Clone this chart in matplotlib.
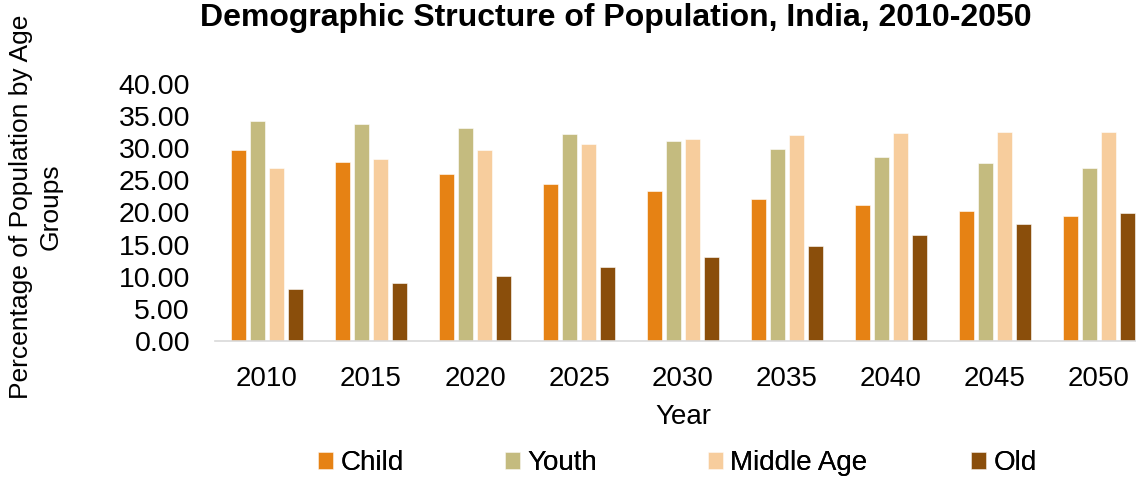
import matplotlib
matplotlib.use("Agg")
import matplotlib.pyplot as plt
import numpy as np

plt.rcParams['font.family'] = ['Liberation Sans', 'DejaVu Sans']

years = ["2010", "2015", "2020", "2025", "2030", "2035", "2040", "2045", "2050"]
child = [29.7, 27.8, 26.0, 24.5, 23.3, 22.1, 21.1, 20.3, 19.5]
youth = [34.2, 33.7, 33.1, 32.2, 31.1, 29.9, 28.7, 27.7, 26.9]
middle = [26.9, 28.4, 29.7, 30.7, 31.4, 32.0, 32.4, 32.6, 32.5]
old = [8.1, 9.0, 10.1, 11.5, 13.0, 14.8, 16.5, 18.2, 19.9]

series_names = ["Child", "Youth", "Middle Age", "Old"]
series = [child, youth, middle, old]
colors = ["#E68214", "#C4BB7F", "#F7CD9D", "#8A4E0B"]

W, H = 1136, 478
fig = plt.figure(figsize=(W / 100, H / 100), dpi=100)
ax = fig.add_axes([215 / W, 1 - 341 / H, (1151 - 215) / W, (341 - 84) / H])

x = np.arange(len(years))
slot = 0.183
bw = 0.145
for i, (name, vals, c) in enumerate(zip(series_names, series, colors)):
    ax.bar(x + (i - 1.5) * slot, vals, width=bw, color=c, label=name,
           edgecolor='white', linewidth=0.4)

ax.set_xlim(-0.5, len(years) - 0.5)
ax.set_ylim(0, 40)
ax.set_yticks(np.arange(0, 45, 5))
ax.set_yticklabels([f"{v:.2f}" for v in np.arange(0, 45, 5)], fontsize=20.5)
ax.set_xticks(x)
ax.set_xticklabels(years, fontsize=20)
ax.tick_params(axis='both', length=0)
ax.tick_params(axis='y', pad=18)
ax.tick_params(axis='x', pad=18)
for s in ['top', 'right', 'left']:
    ax.spines[s].set_visible(False)
ax.spines['bottom'].set_color('#D9D9D9')
ax.spines['bottom'].set_linewidth(1.2)

ax.set_xlabel("Year", fontsize=20, labelpad=9)
fig.text(36 / W, 1 - 207 / H, "Percentage of Population by Age\nGroups",
         rotation=90, ha='center', va='center', fontsize=19,
         multialignment='center', linespacing=1.3)

fig.text(616 / W, 1 - 18 / H, "Demographic Structure of Population, India, 2010-2050",
         ha='center', va='center', fontsize=23, fontweight='bold')

handles, labels = ax.get_legend_handles_labels()
leg_x = [318, 505, 708, 971]
for h, l, lx in zip(handles, labels, leg_x):
    lg = fig.legend([h], [l], loc='center left', bbox_to_anchor=(lx / W, 1 - 463 / H),
                    frameon=False, fontsize=20, handlelength=0.55, handleheight=0.55,
                    handletextpad=0.25, borderaxespad=0, borderpad=0)
    fig.add_artist(lg)

fig.savefig("out.png", dpi=100)
